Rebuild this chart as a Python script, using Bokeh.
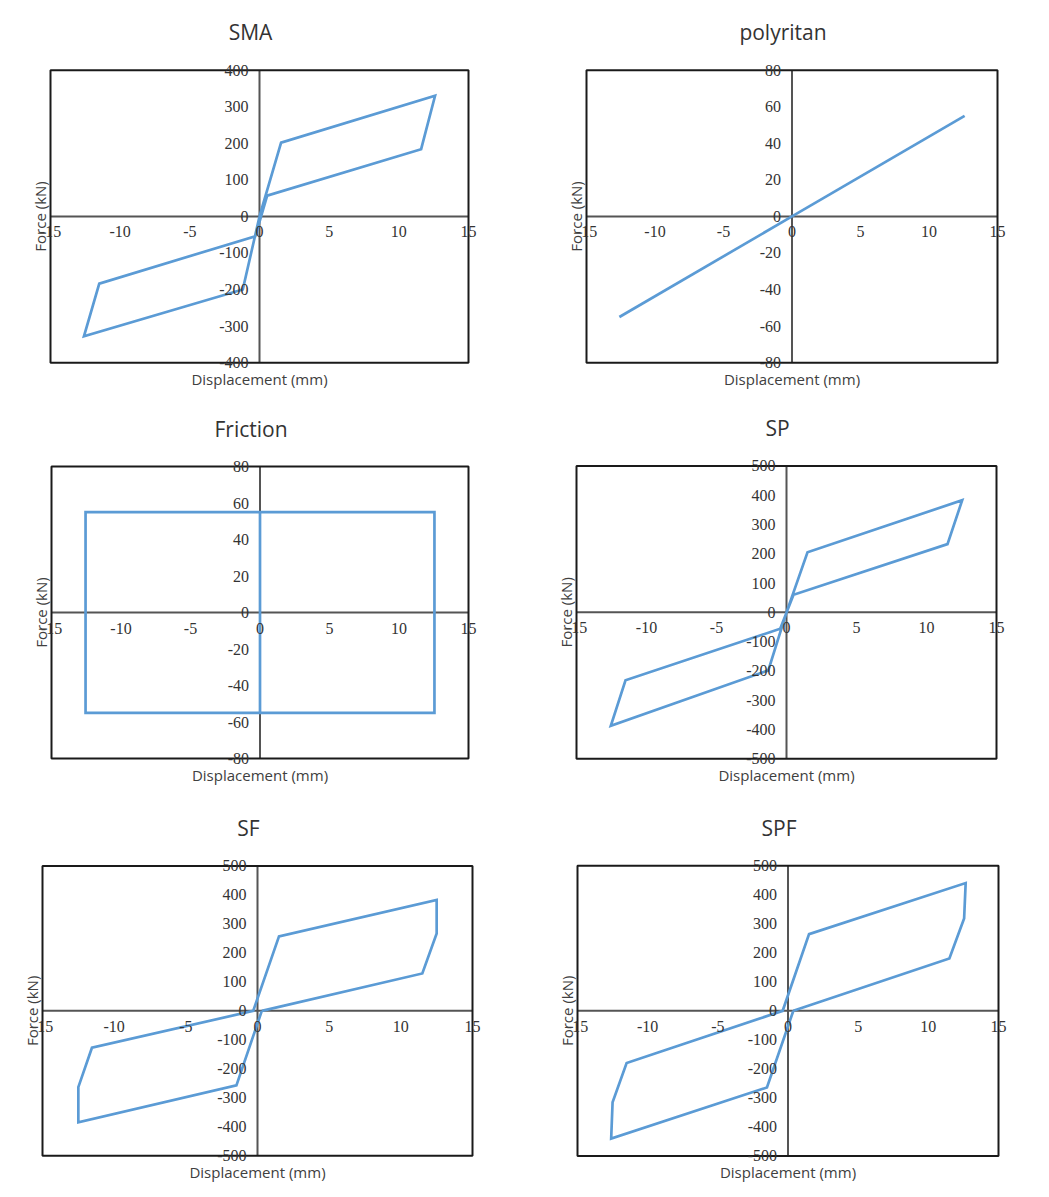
import math
from bokeh.plotting import figure
from bokeh.models import Range1d, LabelSet, Label, ColumnDataSource, BoxAnnotation
from bokeh.layouts import column, row
from bokeh.embed import file_html
from bokeh.resources import INLINE

# ---- data ----
x_ticks = [-15, -10, -5, 0, 5, 10, 15]
y_ticks_400 = [-400, -300, -200, -100, 0, 100, 200, 300, 400]
y_ticks_80 = [-80, -60, -40, -20, 0, 20, 40, 60, 80]
y_ticks_500 = [-500, -400, -300, -200, -100, 0, 100, 200, 300, 400, 500]

titles = ["SMA", "polyritan", "Friction", "SP", "SF", "SPF"]
x_title = "Displacement (mm)"
y_title = "Force (kN)"

sma_x = [0, 1.55, 12.6, 11.6, 0.55, -0.3, -11.5, -12.6, -1.2, 0]
sma_y = [0, 202, 330, 184, 57, -54, -184, -328, -200, 0]

poly_x = [-12.6, 0, 12.6]
poly_y = [-55, 0, 55]

fric_x = [0, 0, 12.55, 12.55, -12.55, -12.55, 0]
fric_y = [-55, 55, 55, -55, -55, 55, 55]

sp_x = [0, 1.5, 12.55, 11.5, 0.5, -0.45, -11.5, -12.55, -1.3, 0]
sp_y = [0, 205, 383, 233, 60, -56, -232, -387, -198, 0]

sf_x = [0.3, -1.47, -12.5, -12.5, -11.55, -0.3, 1.5, 12.5, 12.5, 11.5, 0.3]
sf_y = [0, -257, -384, -263, -127, 0, 257, 383, 267, 129, 0]

spf_x = [0.38, -1.5, -12.6, -12.5, -11.5, -0.38, 1.5, 12.66, 12.55, 11.5, 0.38]
spf_y = [0, -264, -440, -315, -180, 0, 264, 440, 318, 180, 0]

# ---- style ----
LINE_COLOR = "#5B9BD5"
SANS = "Open Sans"
SERIF = "Liberation Serif"
AXIS_COLOR = "#555555"
TICK_COLOR = "#333333"
LABEL_COLOR = "#404040"

# extra frame room (px) around the plotted box so texts are not clipped
PL, PR, PT, PB = 28, 14, 54, 30


def make_panel(title, xs, ys, yticks, w, h, bl, br, bt, bb):
    xmin, xmax = x_ticks[0], x_ticks[-1]
    ymin, ymax = yticks[0], yticks[-1]
    bw = w - bl - br
    bh = h - bt - bb
    ux = (xmax - xmin) / bw
    uy = (ymax - ymin) / bh
    p = figure(width=w, height=h,
               x_range=Range1d(xmin - PL * ux, xmax + PR * ux),
               y_range=Range1d(ymin - PB * uy, ymax + PT * uy),
               output_backend="svg", toolbar_location=None,
               min_border_left=bl - PL, min_border_right=br - PR,
               min_border_top=bt - PT, min_border_bottom=bb - PB)
    p.background_fill_color = "white"
    p.border_fill_color = "white"
    p.grid.visible = False
    p.axis.visible = False
    p.outline_line_color = None
    p.title.visible = False

    # axes crossing at the origin
    p.line([xmin, xmax], [0, 0], line_color=AXIS_COLOR, line_width=2)
    p.line([0, 0], [ymin, ymax], line_color=AXIS_COLOR, line_width=2)

    # data curve
    p.line(xs, ys, line_color=LINE_COLOR, line_width=2.7, line_join="miter")

    # plot box
    p.add_layout(BoxAnnotation(left=xmin, right=xmax, bottom=ymin, top=ymax,
                               fill_alpha=0, line_alpha=1.0,
                               line_color="#1a1a1a", line_width=2))

    # tick labels
    xsrc = ColumnDataSource(dict(x=x_ticks, y=[0] * len(x_ticks),
                                 t=[str(v) for v in x_ticks]))
    ysrc = ColumnDataSource(dict(x=[0] * len(yticks), y=yticks,
                                 t=[str(v) for v in yticks]))
    p.add_layout(LabelSet(x="x", y="y", text="t", source=xsrc,
                          y_offset=-10, text_align="center", text_baseline="top",
                          text_font=SERIF, text_font_size="16px",
                          text_color=TICK_COLOR))
    p.add_layout(LabelSet(x="x", y="y", text="t", source=ysrc,
                          x_offset=-11, text_align="right", text_baseline="middle",
                          text_font=SERIF, text_font_size="16px",
                          text_color=TICK_COLOR))

    # titles
    p.add_layout(Label(x=0, y=ymax, x_offset=-9, y_offset=38, text=title,
                       text_align="center", text_baseline="middle",
                       text_font=SANS, text_font_size="21px",
                       text_color="#333333"))
    p.add_layout(Label(x=0, y=ymin, y_offset=-16, text=x_title,
                       text_align="center", text_baseline="middle",
                       text_font=SANS, text_font_size="15px",
                       text_color=LABEL_COLOR))
    p.add_layout(Label(x=xmin, y=0, x_offset=-11, text=y_title, angle=math.pi / 2,
                       text_align="center", text_baseline="middle",
                       text_font=SANS, text_font_size="15px",
                       text_color=LABEL_COLOR))
    return p


p1 = make_panel(titles[0], sma_x, sma_y, y_ticks_400, 528, 400, 50, 60, 68, 38)
p2 = make_panel(titles[1], poly_x, poly_y, y_ticks_80, 513, 400, 58, 44, 70, 36)
p3 = make_panel(titles[2], fric_x, fric_y, y_ticks_80, 528, 396, 51, 60, 66, 38)
p4 = make_panel(titles[3], sp_x, sp_y, y_ticks_500, 513, 396, 48, 45, 63, 37)
p5 = make_panel(titles[4], sf_x, sf_y, y_ticks_500, 528, 393, 42, 56, 70, 30)
p6 = make_panel(titles[5], spf_x, spf_y, y_ticks_500, 513, 393, 49, 43, 64, 34)

layout = column(row(p1, p2, spacing=0), row(p3, p4, spacing=0),
                row(p5, p6, spacing=0), spacing=0)

open("out.html", "w").write(file_html(layout, INLINE))
